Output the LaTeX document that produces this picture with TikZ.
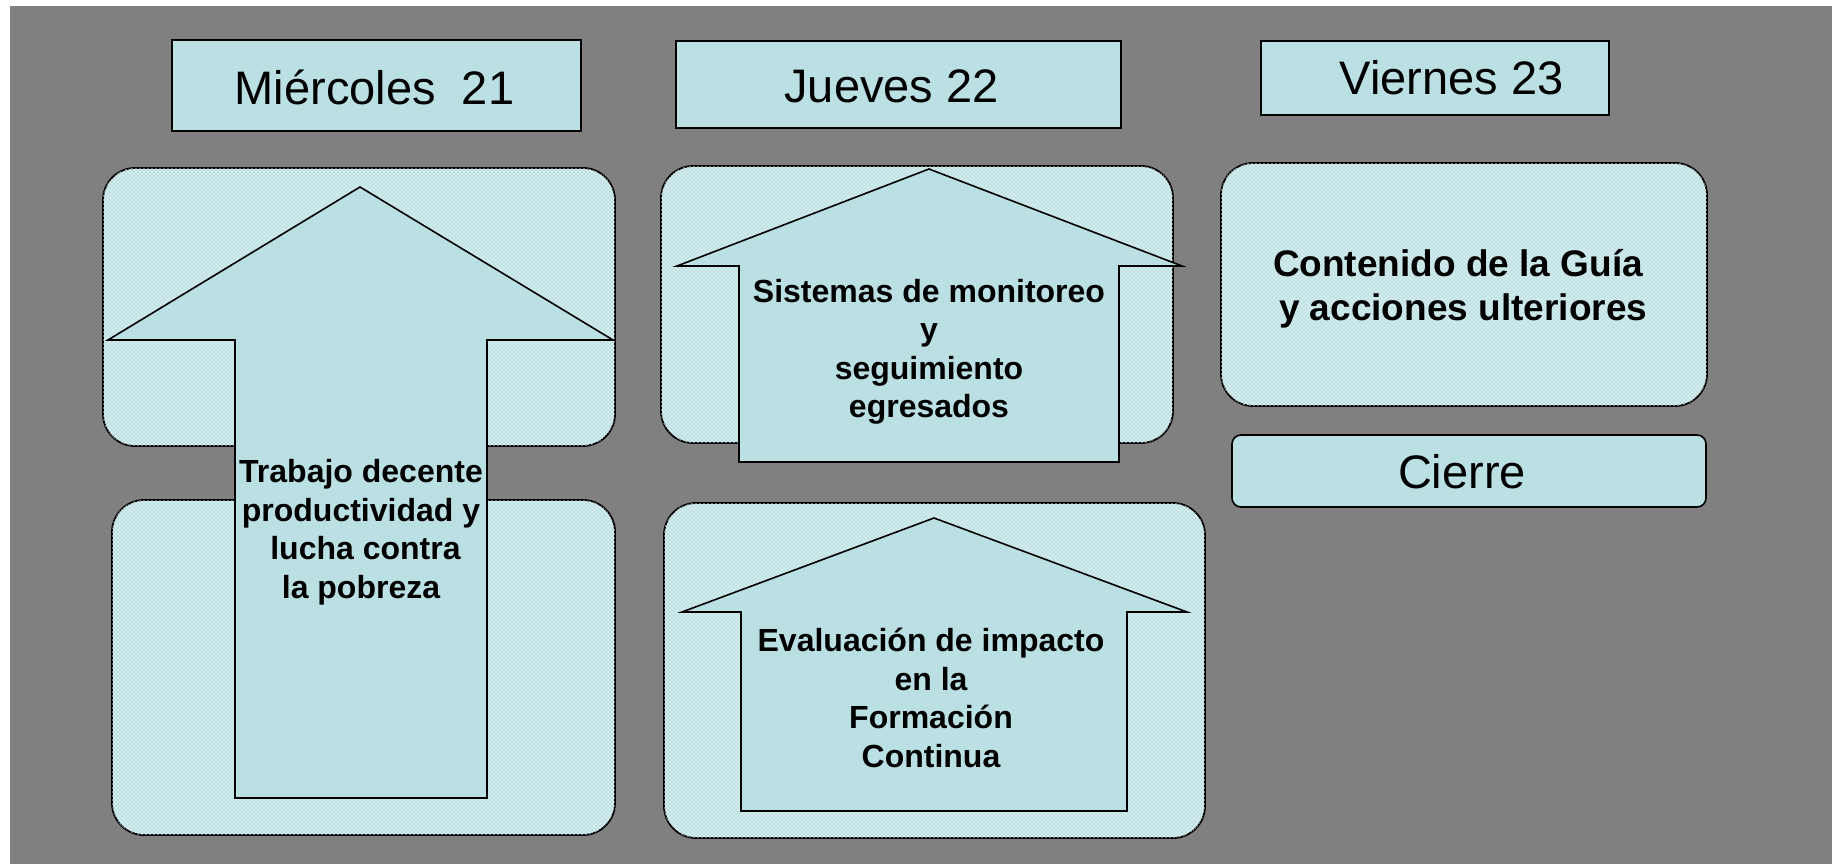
\documentclass[tikz,border=0pt]{standalone}
\usepackage{fontspec}
\setmainfont{Liberation Sans}
\usetikzlibrary{patterns}
\definecolor{bggray}{HTML}{808080}
\definecolor{cyanfill}{HTML}{BBE0E3}
\pgfdeclarepatternformonly{lightdots}{\pgfqpoint{-1pt}{-1pt}}{\pgfqpoint{3pt}{3pt}}{\pgfqpoint{4pt}{4pt}}{%
  \pgfpathrectangle{\pgfqpoint{-0.6pt}{-0.6pt}}{\pgfqpoint{1.2pt}{1.2pt}}%
  \pgfpathrectangle{\pgfqpoint{1.4pt}{1.4pt}}{\pgfqpoint{1.2pt}{1.2pt}}%
  \pgfusepath{fill}}
\tikzset{
  panel/.style={draw=black, line width=1.8pt, rounded corners=32pt, fill=cyanfill,
    postaction={pattern=lightdots, pattern color=white},
    inner sep=0pt, outer sep=0pt},
  hdrbox/.style={draw=black, line width=1.6pt, fill=cyanfill, inner sep=0pt, outer sep=0pt},
  hdrtext/.style={font=\fontsize{47}{56}\selectfont, anchor=base, inner sep=0pt},
  bigarrow/.style={draw=black, line width=1.6pt, fill=cyanfill, line join=miter},
  arrowtext/.style={font=\fontsize{32}{38.5}\selectfont\bfseries, align=center, inner sep=0pt},
  paneltext/.style={font=\fontsize{37}{44}\selectfont\bfseries, align=center, inner sep=0pt},
}
\begin{document}
\begin{tikzpicture}[x=1pt, y=-1pt]
\useasboundingbox (0,0) rectangle (1832,864);
\fill[white] (0,0) rectangle (1832,864);
\fill[bggray] (10,6) rectangle (1832,864);

% header boxes
\node[hdrbox, minimum width=409pt, minimum height=91pt] (hmie) at (376.5,85.5) {};
\node[hdrtext] (tmie) at (374.5,105) {Miércoles\ \ 21};
\node[hdrbox, minimum width=445pt, minimum height=87pt] (hjue) at (898.5,84.5) {};
\node[hdrtext] (tjue) at (891.5,103) {Jueves 22};
\node[hdrbox, minimum width=348pt, minimum height=74pt] (hvie) at (1435,78) {};
\node[hdrtext] (tvie) at (1451.5,95) {Viernes 23};

% Wednesday column
\node[panel, minimum width=512pt, minimum height=278pt] (p1) at (359,307) {};
\node[panel, minimum width=503pt, minimum height=335pt] (p2) at (363.5,667.5) {};
\draw[bigarrow] (360,187) -- (613,340) -- (487,340) -- (487,798) -- (235,798) -- (235,340) -- (108,340) -- cycle;
\node[arrowtext] (a1) at (361,532) {Trabajo decente\\productividad y\\\ lucha contra\\la pobreza};

% Thursday column
\node[panel, minimum width=512pt, minimum height=277pt] (p3) at (917,304.5) {};
\draw[bigarrow] (929,169) -- (1182,266) -- (1119,266) -- (1119,462) -- (739,462) -- (739,266) -- (677,266) -- cycle;
\node[arrowtext] (a2) at (929,352) {Sistemas de monitoreo\\y\\seguimiento\\egresados};

\node[panel, minimum width=541pt, minimum height=335pt] (p4) at (934.5,670.5) {};
\draw[bigarrow] (934,518) -- (1187,612) -- (1127,612) -- (1127,811) -- (741,811) -- (741,612) -- (682,612) -- cycle;
\node[arrowtext] (a3) at (931,698) {Evaluación de impacto\\en la\\Formación\\Continua};

% Friday column
\node[panel, minimum width=486pt, minimum height=243pt] (p5) at (1464,284.5) {};
\node[paneltext] (t5) at (1458,288.5) {Contenido de la Guía\\\ y acciones ulteriores};
\node[hdrbox, rounded corners=9pt, minimum width=474pt, minimum height=72pt] (pc) at (1469,471) {};
\node[hdrtext] (tc) at (1462,488) {Cierre};
\end{tikzpicture}
\end{document}
